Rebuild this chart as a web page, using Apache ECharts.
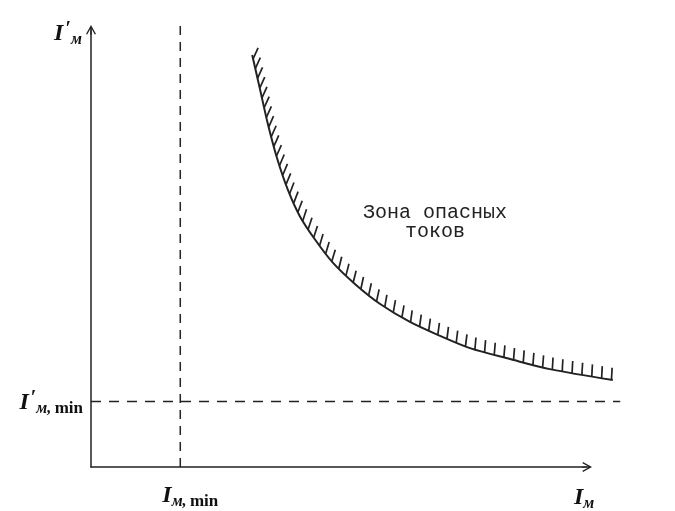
<!DOCTYPE html>
<html>
<head>
<meta charset="utf-8">
<script src="https://cdn.jsdelivr.net/npm/echarts@6/dist/echarts.min.js"></script>
<style>
  html, body { margin: 0; padding: 0; background: #fff; }
  #chart { width: 675px; height: 511px; }
</style>
</head>
<body>
<div id="chart"></div>
<script>
// Boundary of the dangerous-current zone: I_m (x) against I'_m (y)
const curveX = [3.25, 3.41, 3.57, 3.75, 3.97, 4.21, 4.52, 4.88, 5.32, 5.83, 6.43, 7.04, 7.64, 8.45, 9.25, 10.52];
const curveY = [9.43, 8.63, 7.83, 7.07, 6.34, 5.74, 5.20, 4.67, 4.19, 3.73, 3.32, 3.00, 2.72, 2.47, 2.24, 1.99];

// Threshold currents
const xMinValue = 1.8;
const yMinValue = 1.5;

// Extents of the dashed threshold lines
const vLineTop = 10.1;
const hLineEnd = 10.67;

// Zone caption
const zoneText = ['Зона опасных', 'токов'];

const INK = '#222';
const SERIF = '"Liberation Serif", "DejaVu Serif", serif';

// Open chevron with a short stem, pointing up (used as axis arrow heads)
const ARROW = 'path://M5,0 L10,9 L8.8,9.6 L5,2.8 L1.2,9.6 L0,9 Z M4.4,2.8 L5.6,2.8 L5.6,10 L4.4,10 Z';

const labelRich = {
  I: { fontFamily: SERIF, fontStyle: 'italic', fontWeight: 'bold', fontSize: 24, lineHeight: 28, color: '#111' },
  p: { fontFamily: SERIF, fontWeight: 'bold', fontSize: 20, lineHeight: 18, verticalAlign: 'top', color: '#111', padding: [0, 0, 0, 2] },
  s: { fontFamily: SERIF, fontStyle: 'italic', fontWeight: 'bold', fontSize: 16, lineHeight: 15, verticalAlign: 'bottom', color: '#111' },
  m: { fontFamily: SERIF, fontWeight: 'bold', fontSize: 17, lineHeight: 16, verticalAlign: 'bottom', color: '#111' }
};

// Curve of the boundary, drawn through the cartesian scales
function renderCurve(params, api) {
  const pts = curveX.map((x, i) => api.coord([x, curveY[i]]));
  return {
    type: 'polyline',
    shape: { points: pts, smooth: 0.3 },
    style: { stroke: INK, lineWidth: 2, fill: null }
  };
}

// Hatch ticks along the upper side of the boundary curve
function renderHatch(params, api) {
  const pts = curveX.map((x, i) => api.coord([x, curveY[i]]));
  const children = [];
  const step = 10;
  const len = 12;
  let carry = 4;
  for (let i = 0; i < pts.length - 1; i++) {
    const x0 = pts[i][0], y0 = pts[i][1];
    const dx = pts[i + 1][0] - x0, dy = pts[i + 1][1] - y0;
    const segLen = Math.hypot(dx, dy);
    const tx = dx / segLen, ty = dy / segLen;
    const lean = 0.32 * Math.atan2(ty, tx);
    let d = carry;
    while (d <= segLen) {
      const bx = x0 + tx * d, by = y0 + ty * d;
      children.push({
        type: 'line',
        shape: { x1: bx, y1: by, x2: bx + Math.sin(lean) * len, y2: by - Math.cos(lean) * len },
        style: { stroke: INK, lineWidth: 1.7 }
      });
      d += step;
    }
    carry = d - segLen;
  }
  return { type: 'group', children: children };
}

// Dashed threshold lines I_m,min and I'_m,min
function renderThresholds(params, api) {
  const h0 = api.coord([0, yMinValue]), h1 = api.coord([hLineEnd, yMinValue]);
  const v0 = api.coord([xMinValue, 0]), v1 = api.coord([xMinValue, vLineTop]);
  return {
    type: 'group',
    children: [
      { type: 'line', shape: { x1: h0[0], y1: h0[1], x2: h1[0], y2: h1[1] },
        style: { stroke: INK, lineWidth: 1.5, lineDash: [10, 8] } },
      { type: 'line', shape: { x1: v0[0], y1: v0[1], x2: v1[0], y2: v1[1] },
        style: { stroke: INK, lineWidth: 1.5, lineDash: [9, 7] } }
    ]
  };
}

const chart = echarts.init(document.getElementById('chart'), null, { renderer: 'canvas' });

chart.setOption({
  backgroundColor: '#fff',
  animation: false,
  grid: { left: 91, right: 88, top: 30, bottom: 44, containLabel: false, outerBoundsMode: 'none' },
  xAxis: {
    type: 'value', min: 0, max: 10,
    splitLine: { show: false },
    axisTick: { show: false },
    axisLine: { onZero: false, lineStyle: { color: INK, width: 1.5 }, symbol: ['none', ARROW], symbolSize: [11, 10] },
    axisLabel: {
      customValues: [xMinValue],
      margin: 15,
      padding: [0, 0, 0, 20],
      formatter: () => '{I|I}{s|м,} {m|min}',
      rich: labelRich
    },
    name: '{I|I}{s|м}',
    nameLocation: 'end',
    nameGap: -13,
    nameTextStyle: { rich: labelRich, verticalAlign: 'top', padding: [17, 0, 0, 0] }
  },
  yAxis: {
    type: 'value', min: 0, max: 10,
    splitLine: { show: false },
    axisTick: { show: false },
    axisLine: { onZero: false, lineStyle: { color: INK, width: 1.5 }, symbol: ['none', ARROW], symbolSize: [11, 10] },
    axisLabel: {
      customValues: [yMinValue],
      margin: 8,
      padding: [3, 0, 0, 0],
      formatter: () => '{I|I}{p|′}{s|м,} {m|min}',
      rich: labelRich
    },
    name: '{I|I}{p|′}{s|м}',
    nameLocation: 'end',
    nameGap: -4,
    nameTextStyle: { rich: labelRich, align: 'right', verticalAlign: 'middle', padding: [0, 9, 0, 0] }
  },
  graphic: [{
    type: 'text',
    x: 435, y: 203,
    style: {
      text: zoneText.join('\n'),
      font: '20px "Liberation Mono", "DejaVu Sans Mono", monospace',
      fill: '#222',
      align: 'center',
      verticalAlign: 'top',
      lineHeight: 19
    }
  }],
  series: [
    { type: 'custom', data: [[0, 0]], clip: false, renderItem: renderThresholds },
    { type: 'custom', data: [[0, 0]], clip: false, renderItem: renderCurve },
    { type: 'custom', data: [[0, 0]], clip: false, renderItem: renderHatch }
  ]
});
</script>
</body>
</html>
